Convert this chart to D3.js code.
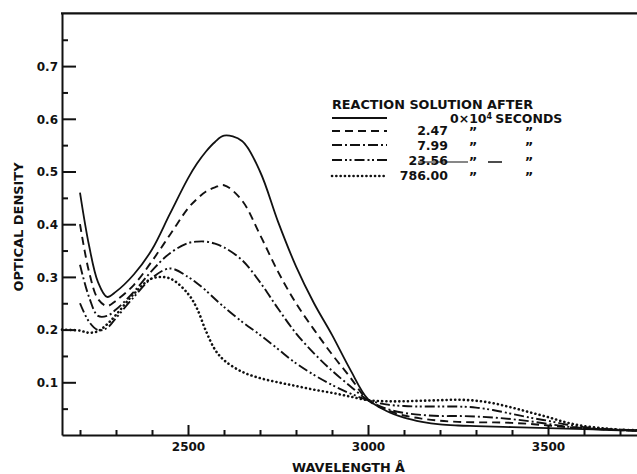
<!DOCTYPE html>
<html><head><meta charset="utf-8">
<script src="https://cdn.jsdelivr.net/npm/d3@7"></script>
<style>
body{margin:0;background:#fff;}
svg{display:block;}
text{font-family:"DejaVu Sans",sans-serif;font-weight:bold;fill:#111;}
</style></head>
<body><svg id="c" width="637" height="474"></svg>
<script>
// ---- data ----
const wl = [2200,2225,2250,2275,2300,2350,2400,2450,2500,2525,2550,2575,2600,2650,2700,2750,2800,2850,2900,2950,3000,3050,3100,3150,3200,3250,3300,3350,3400,3450,3500,3550,3600,3650,3700,3750];
const s0 = [.46,.36,.29,.262,.272,.305,.352,.42,.487,.515,.538,.556,.568,.558,.50,.405,.32,.25,.19,.125,.068,.046,.033,.025,.02,.018,.017,.016,.015,.014,.013,.012,.011,.01,.009,.008];
const s247 = [.40,.31,.258,.245,.255,.285,.33,.38,.43,.448,.462,.47,.474,.445,.38,.31,.25,.20,.153,.11,.066,.048,.037,.031,.027,.025,.024,.024,.023,.021,.018,.015,.013,.011,.01,.009];
const s799 = [.323,.262,.226,.226,.238,.272,.312,.345,.364,.367,.367,.363,.356,.332,.29,.24,.193,.155,.122,.093,.066,.05,.042,.038,.036,.036,.035,.033,.03,.026,.021,.016,.013,.011,.009,.008];
const s2356 = [.25,.215,.199,.203,.222,.262,.298,.316,.3,.288,.274,.258,.243,.215,.19,.163,.136,.114,.095,.079,.066,.058,.055,.054,.054,.054,.052,.047,.04,.033,.027,.02,.015,.012,.01,.009];
const s786 = [.198,.194,.197,.21,.228,.268,.297,.297,.268,.24,.197,.162,.142,.12,.108,.10,.093,.086,.08,.073,.066,.064,.064,.065,.066,.067,.065,.06,.052,.043,.034,.024,.017,.013,.01,.009];
const s786Start = [2150, 0.20];
const legendTimes = ["0", "2.47", "7.99", "23.56", "786.00"];
const yTicks = [0.1,0.2,0.3,0.4,0.5,0.6,0.7];
const yMinor = [0.05,0.15,0.25,0.35,0.45,0.55,0.65,0.75];
const xTicks = [2500,3000,3500];
const xMinor = [2200,2300,2400,2600,2700,2800,2900,3100,3200,3300,3400,3600,3700];

// ---- layout ----
const svg = d3.select("#c");
const L = 62, R = 638, T = 13.4, B = 435;
const x = d3.scaleLinear().domain([2150, 3750]).range([L, R]);
const y = d3.scaleLinear().domain([0, 0.8]).range([B, T]);

// axes
const gy = svg.append("g").attr("transform", `translate(${L},0)`);
gy.call(d3.axisLeft(y).tickValues(yTicks).tickSizeInner(-14).tickSizeOuter(0).tickPadding(4).tickFormat(d3.format(".1f")));
const gym = svg.append("g").attr("transform", `translate(${L},0)`);
gym.call(d3.axisLeft(y).tickValues(yMinor).tickSizeInner(-6).tickSizeOuter(0).tickFormat(""));
gym.select(".domain").remove();
const gx = svg.append("g").attr("transform", `translate(0,${B})`);
gx.call(d3.axisBottom(x).tickValues(xTicks).tickSizeInner(-10).tickSizeOuter(0).tickPadding(7).tickFormat(d3.format("d")));
const gxm = svg.append("g").attr("transform", `translate(0,${B})`);
gxm.call(d3.axisBottom(x).tickValues(xMinor).tickSizeInner(-5).tickSizeOuter(0).tickFormat(""));
gxm.select(".domain").remove();
svg.selectAll(".domain").attr("stroke", "#111").attr("stroke-width", 2);
svg.selectAll(".tick line").attr("stroke", "#111").attr("stroke-width", 2);
svg.selectAll(".tick text").attr("font-size", 12).attr("font-family", "DejaVu Sans").attr("font-weight", "bold").attr("fill", "#111");
gy.selectAll(".tick text").attr("dy", "0.36em");

// top border
svg.append("line").attr("x1", L - 1).attr("x2", R).attr("y1", y(0.8)).attr("y2", y(0.8))
  .attr("stroke", "#111").attr("stroke-width", 2.2);

// axis titles
svg.append("text").attr("transform", "translate(23,227) rotate(-90)").attr("text-anchor", "middle")
  .attr("font-size", 13).attr("textLength", 129).attr("lengthAdjust", "spacingAndGlyphs").text("OPTICAL DENSITY");
svg.append("text").attr("x", 292).attr("y", 471.5).attr("font-size", 13)
  .attr("textLength", 113).attr("lengthAdjust", "spacingAndGlyphs").text("WAVELENGTH Å");

// curves
const styles = [
  {dash: null, w: 1.8, cap: "butt"},
  {dash: "8,5", w: 1.9, cap: "butt"},
  {dash: "10,3,2,3", w: 1.9, cap: "butt"},
  {dash: "10,3,2,2.5,2,3", w: 1.9, cap: "butt"},
  {dash: "0.1,4.2", w: 2.6, cap: "round"}
];
const series = [s0, s247, s799, s2356, s786];
const line = d3.line().x(d => x(d[0])).y(d => y(d[1])).curve(d3.curveCatmullRom.alpha(0.5));
series.forEach((s, i) => {
  let pts = wl.map((w, j) => [w, s[j]]);
  if (i === 4) pts = [s786Start].concat(pts);
  svg.append("path").attr("d", line(pts)).attr("fill", "none").attr("stroke", "#111")
    .attr("stroke-width", styles[i].w).attr("stroke-dasharray", styles[i].dash)
    .attr("stroke-linecap", styles[i].cap);
});

// legend
svg.append("text").attr("x", 332).attr("y", 108.5).attr("font-size", 13)
  .attr("textLength", 201).attr("lengthAdjust", "spacingAndGlyphs").text("REACTION SOLUTION AFTER");
const rowLine = [118, 131, 145, 160, 176];
const rowBase = [122.5, 135, 150, 164.5, 179.5];
legendTimes.forEach((t, i) => {
  svg.append("line").attr("x1", 332).attr("x2", 387).attr("y1", rowLine[i]).attr("y2", rowLine[i])
    .attr("stroke", "#111").attr("stroke-width", styles[i].w).attr("stroke-dasharray", styles[i].dash)
    .attr("stroke-linecap", styles[i].cap);
  if (i === 0) {
    const t0 = svg.append("text").attr("x", 450).attr("y", rowBase[i]).attr("font-size", 12.5);
    t0.append("tspan").text("0×10");
    t0.append("tspan").attr("dy", -4).attr("font-size", 8).text("4");
    t0.append("tspan").attr("dy", 4).attr("dx", 3).text("SECONDS");
  } else {
    svg.append("text").attr("x", 448).attr("y", rowBase[i]).attr("text-anchor", "end").attr("font-size", 12.5).text(t);
    svg.append("text").attr("x", 473).attr("y", rowBase[i] + 1).attr("text-anchor", "middle").attr("font-size", 13).text("”");
    svg.append("text").attr("x", 529).attr("y", rowBase[i] + 1).attr("text-anchor", "middle").attr("font-size", 13).text("”");
  }
});
// stray strike marks on the 23.56 row
svg.append("line").attr("x1", 418).attr("x2", 468).attr("y1", 162).attr("y2", 162).attr("stroke", "#111").attr("stroke-width", 1.2);
svg.append("line").attr("x1", 488).attr("x2", 502).attr("y1", 162).attr("y2", 162).attr("stroke", "#111").attr("stroke-width", 1.5);
</script></body></html>
